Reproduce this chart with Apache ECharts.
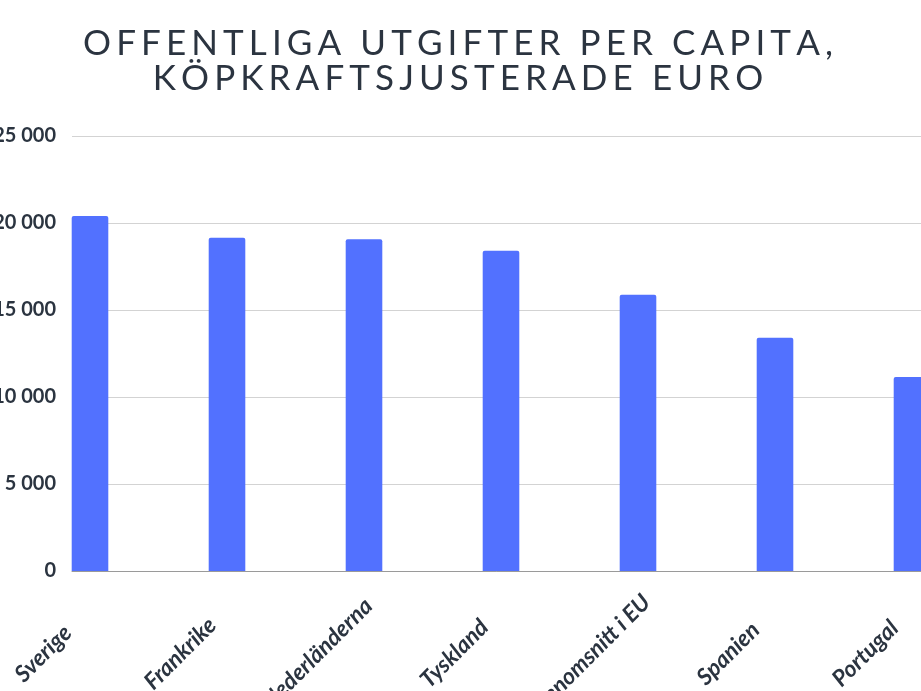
<!DOCTYPE html>
<html>
<head>
<meta charset="utf-8">
<title>Offentliga utgifter per capita</title>
<script src="https://cdn.jsdelivr.net/npm/echarts@6/dist/echarts.min.js"></script>
<style>
  html, body { margin: 0; padding: 0; background: #fff; }
  #chart { width: 921px; height: 691px; }
</style>
</head>
<body>
<div id="chart"></div>
<script>
// data
var categories = ['Sverige', 'Frankrike', 'Nederländerna', 'Tyskland', 'Genomsnitt i EU', 'Spanien', 'Portugal'];
var spending = [20400, 19150, 19070, 18400, 15870, 13400, 11150];
var yMin = 0;
var yMax = 25000;
var yStep = 5000;
var titleLines = ['OFFENTLIGA UTGIFTER PER CAPITA,', 'KÖPKRAFTSJUSTERADE EURO'];

var ink = '#2b3440';

// echarts has no letter-spacing, so every character gets its own rich token with padding
function spaced(str) {
    return str.split('').map(function (c) { return '{s|' + c + '}'; }).join('');
}

function thousands(v) {
    return String(v).replace(/\B(?=(\d{3})+(?!\d))/g, ' ');
}

var chart = echarts.init(document.getElementById('chart'));

var option = {
    backgroundColor: '#fff',
    animation: false,
    title: titleLines.map(function (line, i) {
        return {
            text: spaced(line),
            left: 'center',
            top: 26 + i * 35,
            padding: 0,
            textStyle: {
                rich: {
                    s: {
                        fontFamily: 'Lato',
                        fontSize: 35,
                        lineHeight: 35,
                        fontWeight: 'normal',
                        color: ink,
                        padding: [0, 5.1, 0, 0]
                    }
                }
            }
        };
    }),
    grid: [
        // grid with the value axis, gridlines and baseline
        {left: 72, right: -200, top: 136, bottom: 120, outerBoundsMode: 'none'},
        // grid holding the bars, its bands start left of the axis
        {left: 21.5, right: -59.5, top: 136, bottom: 120, outerBoundsMode: 'none'}
    ],
    xAxis: [
        {
            gridIndex: 0,
            type: 'value',
            min: 0,
            max: 1,
            axisLine: {show: true, lineStyle: {color: '#9a9a9a', width: 1}},
            axisTick: {show: false},
            axisLabel: {show: false},
            splitLine: {show: false}
        },
        {
            gridIndex: 1,
            type: 'category',
            data: categories,
            axisLine: {show: false},
            axisTick: {show: false},
            axisLabel: {
                interval: 0,
                rotate: 45,
                margin: 36,
                align: 'center',
                verticalAlign: 'middle',
                padding: [0, 132, 0, 0],
                fontFamily: 'Lato',
                fontSize: 23,
                fontWeight: 'bold',
                fontStyle: 'italic',
                color: ink
            }
        }
    ],
    yAxis: [
        {
            gridIndex: 0,
            type: 'value',
            min: yMin,
            max: yMax,
            interval: yStep,
            axisLine: {show: false},
            axisTick: {show: false},
            axisLabel: {
                margin: 16,
                fontFamily: 'Lato',
                fontSize: 20,
                fontWeight: 'bold',
                color: ink,
                formatter: thousands
            },
            splitLine: {lineStyle: {color: '#d3d3d3', width: 1}}
        },
        {
            gridIndex: 1,
            type: 'value',
            min: yMin,
            max: yMax,
            show: false
        }
    ],
    series: [
        {
            type: 'bar',
            xAxisIndex: 1,
            yAxisIndex: 1,
            data: spending,
            barWidth: 36.6,
            itemStyle: {
                color: '#5271ff',
                borderRadius: [2, 2, 0, 0]
            }
        }
    ]
};

chart.setOption(option);
</script>
</body>
</html>
